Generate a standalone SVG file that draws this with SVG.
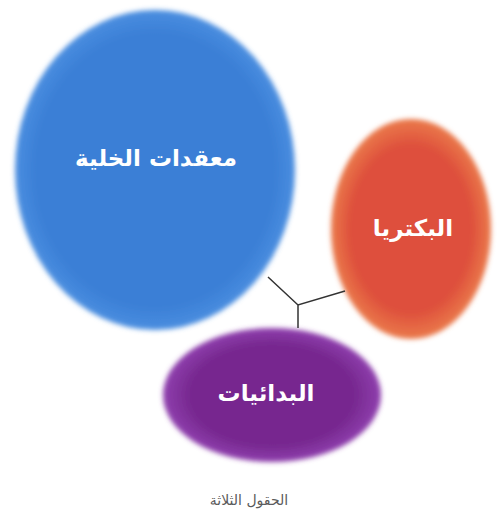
<svg xmlns="http://www.w3.org/2000/svg" width="498" height="517" viewBox="0 0 498 517">
<defs>
<filter id="soft" x="-10%" y="-10%" width="120%" height="120%"><feGaussianBlur stdDeviation="2.5"/></filter>
<radialGradient id="gBlue" cx="50%" cy="50%" r="50%"><stop offset="0.85" stop-color="#3b7fd6"/><stop offset="1" stop-color="#4a8ee0"/></radialGradient>
<radialGradient id="gRed" cx="50%" cy="50%" r="50%"><stop offset="0.75" stop-color="#de4f3c"/><stop offset="1" stop-color="#ea7a4a"/></radialGradient>
<radialGradient id="gPurple" cx="50%" cy="50%" r="50%"><stop offset="0.75" stop-color="#77288f"/><stop offset="1" stop-color="#8f3fae"/></radialGradient>
</defs>
<style>
.lbl{font-family:"DejaVu Sans",sans-serif;font-weight:bold;fill:#ffffff;text-anchor:middle;font-size:23px;}
.cap{font-family:"DejaVu Sans",sans-serif;fill:#5a5a5a;text-anchor:middle;font-size:14px;}
.conn{stroke:#333333;stroke-width:1.5;fill:none;}
</style>
<rect width="498" height="517" fill="#ffffff"/>
<g id="eukarya">
<ellipse cx="155" cy="170" rx="140" ry="160" fill="url(#gBlue)" filter="url(#soft)"/>
<text class="lbl" x="156" y="166" direction="rtl">معقدات الخلية</text>
</g>
<g id="bacteria">
<ellipse cx="411" cy="229" rx="80" ry="110" fill="url(#gRed)" filter="url(#soft)"/>
<text class="lbl" x="413" y="236" direction="rtl">البكتريا</text>
</g>
<g id="archaea">
<ellipse cx="272" cy="395" rx="109" ry="67" fill="url(#gPurple)" filter="url(#soft)"/>
<text class="lbl" x="266" y="401" direction="rtl">البدائيات</text>
</g>
<g id="connectors">
<path class="conn" d="M268,277 L298,305 L345,291 M298,305 L298,328"/>
</g>
<g id="caption">
<text class="cap" x="249" y="505" direction="rtl">الحقول الثلاثة</text>
</g>
</svg>
